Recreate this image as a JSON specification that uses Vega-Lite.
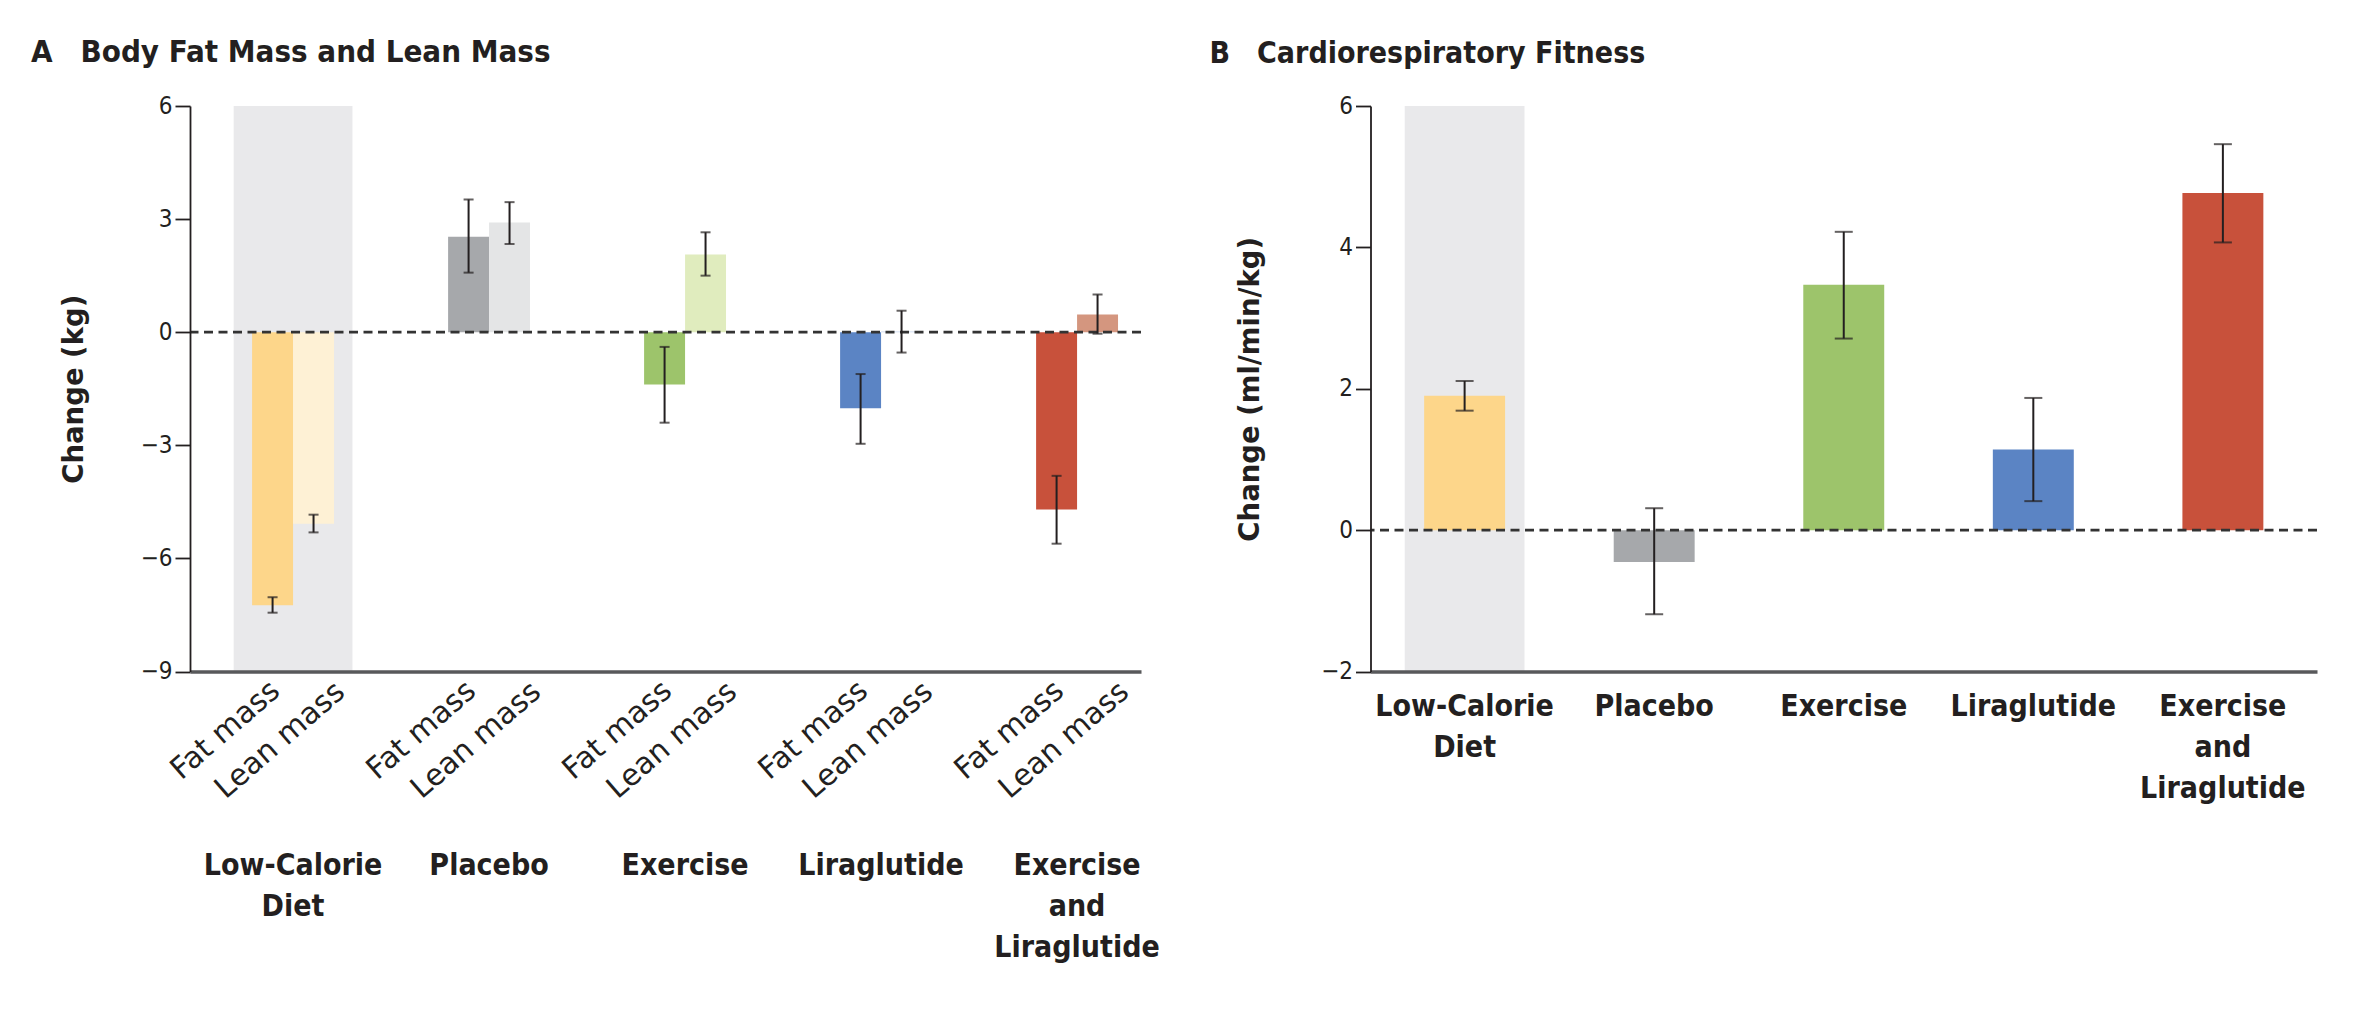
{
  "$schema": "https://vega.github.io/schema/vega-lite/v6.json",
  "background": "white",
  "padding": {"left": 31, "top": 37, "right": 5, "bottom": 5},
  "bounds": "flush",
  "spacing": 229.5,
  "config": {
    "view": {"stroke": null},
    "font": "DejaVu Sans Condensed",
    "axis": {"labelColor": "#231f20", "titleColor": "#231f20"}
  },
  "datasets": {
    "body": [
      {"group": "Low-Calorie Diet", "measure": "Fat mass", "change": -7.24, "lo": -7.44, "hi": -7.03},
      {"group": "Low-Calorie Diet", "measure": "Lean mass", "change": -5.08, "lo": -5.31, "hi": -4.84},
      {"group": "Placebo", "measure": "Fat mass", "change": 2.53, "lo": 1.58, "hi": 3.52},
      {"group": "Placebo", "measure": "Lean mass", "change": 2.91, "lo": 2.34, "hi": 3.45},
      {"group": "Exercise", "measure": "Fat mass", "change": -1.39, "lo": -2.40, "hi": -0.39},
      {"group": "Exercise", "measure": "Lean mass", "change": 2.06, "lo": 1.50, "hi": 2.65},
      {"group": "Liraglutide", "measure": "Fat mass", "change": -2.02, "lo": -2.96, "hi": -1.11},
      {"group": "Liraglutide", "measure": "Lean mass", "change": 0.02, "lo": -0.54, "hi": 0.57},
      {"group": "Exercise and Liraglutide", "measure": "Fat mass", "change": -4.70, "lo": -5.61, "hi": -3.81},
      {"group": "Exercise and Liraglutide", "measure": "Lean mass", "change": 0.47, "lo": -0.04, "hi": 1.00}
    ],
    "fitness": [
      {"group": "Low-Calorie Diet", "change": 1.90, "lo": 1.69, "hi": 2.11},
      {"group": "Placebo", "change": -0.45, "lo": -1.19, "hi": 0.31},
      {"group": "Exercise", "change": 3.47, "lo": 2.71, "hi": 4.22},
      {"group": "Liraglutide", "change": 1.14, "lo": 0.41, "hi": 1.87},
      {"group": "Exercise and Liraglutide", "change": 4.77, "lo": 4.07, "hi": 5.46}
    ]
  },
  "hconcat": [
    {
      "width": 951,
      "height": 565.5,
      "title": {"text": "A\u2002\u2002Body Fat Mass and Lean Mass", "anchor": "start", "frame": "group", "dx": -159, "offset": 1, "baseline": "alphabetic", "font": "DejaVu Sans Condensed", "fontSize": 31, "fontWeight": "bold", "color": "#231f20"},
      "data": {"name": "body"},
      "resolve": {"scale": {"color": "independent"}},
      "layer": [
        {
          "data": {"values": [{"group": "Low-Calorie Diet"}]},
          "mark": {"type": "bar", "color": "#e9e9eb", "width": {"band": 1.45}},
          "encoding": {
            "x": {"field": "group", "type": "nominal",
              "scale": {"domain": ["Low-Calorie Diet", "Placebo", "Exercise", "Liraglutide", "Exercise and Liraglutide"], "paddingInner": 0.582, "paddingOuter": 0.217, "align": 0.73},
              "axis": {"title": null, "ticks": false, "domainColor": "#58595b", "domainWidth": 3.5, "zindex": 1,
                "labelFont": "DejaVu Sans Condensed", "labelFontSize": 30, "labelFontWeight": "bold", "labelAngle": 0,
                "labelBaseline": "top", "labelPadding": 179, "labelLineHeight": 41, "labelOverlap": false, "labelLimit": 0,
                "labelExpr": "datum.value == 'Low-Calorie Diet' ? ['Low-Calorie', 'Diet'] : datum.value == 'Exercise and Liraglutide' ? ['Exercise', 'and', 'Liraglutide'] : datum.value"}},
            "y": {"datum": 6, "type": "quantitative", "scale": {"domain": [-9, 6], "nice": false, "zero": false},
              "axis": {"title": "Change (kg)", "values": [-9, -6, -3, 0, 3, 6], "format": "~g", "grid": false, "zindex": 1,
                "tickSize": 15, "tickWidth": 1.8, "tickColor": "#231f20", "domainColor": "#231f20", "domainWidth": 1.8,
                "labelFont": "DejaVu Sans Condensed", "labelFontSize": 24, "labelPadding": 3,
                "titleFont": "DejaVu Sans", "titleFontSize": 27.5, "titleFontWeight": "bold", "titlePadding": 52}},
            "y2": {"datum": -9}
          }
        },
        {
          "transform": [{"filter": "datum.measure == 'Fat mass'"}],
          "mark": {"type": "bar"},
          "encoding": {
            "x": {"field": "group", "type": "nominal", "scale": {"domain": ["Low-Calorie Diet", "Placebo", "Exercise", "Liraglutide", "Exercise and Liraglutide"], "paddingInner": 0.582, "paddingOuter": 0.217, "align": 0.73}},
            "xOffset": {"field": "measure", "type": "nominal", "scale": {"domain": ["Fat mass", "Lean mass"], "paddingInner": 0, "paddingOuter": 0}},
            "y": {"field": "change", "type": "quantitative", "scale": {"domain": [-9, 6], "nice": false, "zero": false}},
            "y2": {"datum": 0},
            "color": {"field": "group", "type": "nominal", "legend": null,
              "scale": {"domain": ["Low-Calorie Diet", "Placebo", "Exercise", "Liraglutide", "Exercise and Liraglutide"], "range": ["#fdd68a", "#a6a8ab", "#9dc46b", "#5b84c4", "#c8513b"]}}
          }
        },
        {
          "transform": [{"filter": "datum.measure == 'Lean mass'"}],
          "mark": {"type": "bar"},
          "encoding": {
            "x": {"field": "group", "type": "nominal", "scale": {"domain": ["Low-Calorie Diet", "Placebo", "Exercise", "Liraglutide", "Exercise and Liraglutide"], "paddingInner": 0.582, "paddingOuter": 0.217, "align": 0.73}},
            "xOffset": {"field": "measure", "type": "nominal", "scale": {"domain": ["Fat mass", "Lean mass"], "paddingInner": 0, "paddingOuter": 0}},
            "y": {"field": "change", "type": "quantitative", "scale": {"domain": [-9, 6], "nice": false, "zero": false}},
            "y2": {"datum": 0},
            "color": {"field": "group", "type": "nominal", "legend": null,
              "scale": {"domain": ["Low-Calorie Diet", "Placebo", "Exercise", "Liraglutide", "Exercise and Liraglutide"], "range": ["#fef1d5", "#e4e5e6", "#e0ecbe", "#c8d6ee", "#d4967f"]}}
          }
        },
        {
          "data": {"values": [{}]},
          "mark": {"type": "rule", "color": "#333333", "strokeWidth": 2.8, "strokeDash": [9, 5.5]},
          "encoding": {"y": {"datum": 0, "type": "quantitative", "scale": {"domain": [-9, 6], "nice": false, "zero": false}}}
        },
        {
          "mark": {"type": "rule", "color": "#231f20", "strokeWidth": 2},
          "encoding": {
            "x": {"field": "group", "type": "nominal", "scale": {"domain": ["Low-Calorie Diet", "Placebo", "Exercise", "Liraglutide", "Exercise and Liraglutide"], "paddingInner": 0.582, "paddingOuter": 0.217, "align": 0.73}},
            "xOffset": {"field": "measure", "type": "nominal", "scale": {"domain": ["Fat mass", "Lean mass"], "paddingInner": 0, "paddingOuter": 0}},
            "y": {"field": "lo", "type": "quantitative", "scale": {"domain": [-9, 6], "nice": false, "zero": false}},
            "y2": {"field": "hi"}
          }
        },
        {
          "mark": {"type": "tick", "color": "#231f20", "thickness": 2, "size": 10},
          "encoding": {
            "x": {"field": "group", "type": "nominal", "scale": {"domain": ["Low-Calorie Diet", "Placebo", "Exercise", "Liraglutide", "Exercise and Liraglutide"], "paddingInner": 0.582, "paddingOuter": 0.217, "align": 0.73}},
            "xOffset": {"field": "measure", "type": "nominal", "scale": {"domain": ["Fat mass", "Lean mass"], "paddingInner": 0, "paddingOuter": 0}},
            "y": {"field": "lo", "type": "quantitative", "scale": {"domain": [-9, 6], "nice": false, "zero": false}}
          }
        },
        {
          "mark": {"type": "tick", "color": "#231f20", "thickness": 2, "size": 10},
          "encoding": {
            "x": {"field": "group", "type": "nominal", "scale": {"domain": ["Low-Calorie Diet", "Placebo", "Exercise", "Liraglutide", "Exercise and Liraglutide"], "paddingInner": 0.582, "paddingOuter": 0.217, "align": 0.73}},
            "xOffset": {"field": "measure", "type": "nominal", "scale": {"domain": ["Fat mass", "Lean mass"], "paddingInner": 0, "paddingOuter": 0}},
            "y": {"field": "hi", "type": "quantitative", "scale": {"domain": [-9, 6], "nice": false, "zero": false}}
          }
        },
        {
          "transform": [{"filter": "datum.measure == 'Fat mass'"}],
          "mark": {"type": "text", "angle": 319, "align": "right", "baseline": "alphabetic", "dx": -7.6, "dy": 22.5, "font": "DejaVu Sans", "fontSize": 30, "color": "#231f20"},
          "encoding": {
            "x": {"field": "group", "type": "nominal", "scale": {"domain": ["Low-Calorie Diet", "Placebo", "Exercise", "Liraglutide", "Exercise and Liraglutide"], "paddingInner": 0.582, "paddingOuter": 0.217, "align": 0.73}},
            "xOffset": {"field": "measure", "type": "nominal", "scale": {"domain": ["Fat mass", "Lean mass"], "paddingInner": 0, "paddingOuter": 0}},
            "y": {"datum": -9, "type": "quantitative", "scale": {"domain": [-9, 6], "nice": false, "zero": false}},
            "text": {"field": "measure"}
          }
        },
        {
          "transform": [{"filter": "datum.measure == 'Lean mass'"}],
          "mark": {"type": "text", "angle": 319, "align": "right", "baseline": "alphabetic", "dx": 9.8, "dy": 39.0, "font": "DejaVu Sans", "fontSize": 30, "color": "#231f20"},
          "encoding": {
            "x": {"field": "group", "type": "nominal", "scale": {"domain": ["Low-Calorie Diet", "Placebo", "Exercise", "Liraglutide", "Exercise and Liraglutide"], "paddingInner": 0.582, "paddingOuter": 0.217, "align": 0.73}},
            "xOffset": {"field": "measure", "type": "nominal", "scale": {"domain": ["Fat mass", "Lean mass"], "paddingInner": 0, "paddingOuter": 0}},
            "y": {"datum": -9, "type": "quantitative", "scale": {"domain": [-9, 6], "nice": false, "zero": false}},
            "text": {"field": "measure"}
          }
        }
      ]
    },
    {
      "width": 946.5,
      "height": 565.5,
      "title": {"text": "B\u2002\u2002Cardiorespiratory Fitness", "anchor": "start", "frame": "group", "dx": -161, "offset": 1, "baseline": "alphabetic", "font": "DejaVu Sans Condensed", "fontSize": 30, "fontWeight": "bold", "color": "#231f20"},
      "data": {"name": "fitness"},
      "layer": [
        {
          "data": {"values": [{"group": "Low-Calorie Diet"}]},
          "mark": {"type": "bar", "color": "#e9e9eb", "width": {"band": 1.48}},
          "encoding": {
            "x": {"field": "group", "type": "nominal",
              "scale": {"domain": ["Low-Calorie Diet", "Placebo", "Exercise", "Liraglutide", "Exercise and Liraglutide"], "paddingInner": 0.573, "paddingOuter": 0.283},
              "axis": {"title": null, "ticks": false, "domainColor": "#58595b", "domainWidth": 3.5, "zindex": 1,
                "labelFont": "DejaVu Sans Condensed", "labelFontSize": 30, "labelFontWeight": "bold", "labelAngle": 0,
                "labelBaseline": "top", "labelPadding": 20, "labelLineHeight": 41, "labelOverlap": false, "labelLimit": 0,
                "labelExpr": "datum.value == 'Low-Calorie Diet' ? ['Low-Calorie', 'Diet'] : datum.value == 'Exercise and Liraglutide' ? ['Exercise', 'and', 'Liraglutide'] : datum.value"}},
            "y": {"datum": 6, "type": "quantitative", "scale": {"domain": [-2, 6], "nice": false, "zero": false},
              "axis": {"title": "Change (ml/min/kg)", "values": [-2, 0, 2, 4, 6], "format": "~g", "grid": false, "zindex": 1,
                "tickSize": 15, "tickWidth": 1.8, "tickColor": "#231f20", "domainColor": "#231f20", "domainWidth": 1.8,
                "labelFont": "DejaVu Sans Condensed", "labelFontSize": 24, "labelPadding": 3,
                "titleFont": "DejaVu Sans", "titleFontSize": 27.5, "titleFontWeight": "bold", "titlePadding": 56}},
            "y2": {"datum": -2}
          }
        },
        {
          "mark": {"type": "bar"},
          "encoding": {
            "x": {"field": "group", "type": "nominal", "scale": {"domain": ["Low-Calorie Diet", "Placebo", "Exercise", "Liraglutide", "Exercise and Liraglutide"], "paddingInner": 0.573, "paddingOuter": 0.283}},
            "y": {"field": "change", "type": "quantitative", "scale": {"domain": [-2, 6], "nice": false, "zero": false}},
            "y2": {"datum": 0},
            "color": {"field": "group", "type": "nominal", "legend": null,
              "scale": {"domain": ["Low-Calorie Diet", "Placebo", "Exercise", "Liraglutide", "Exercise and Liraglutide"], "range": ["#fdd68a", "#a6a8ab", "#9dc46b", "#5b84c4", "#c8513b"]}}
          }
        },
        {
          "data": {"values": [{}]},
          "mark": {"type": "rule", "color": "#333333", "strokeWidth": 2.8, "strokeDash": [9, 5.5]},
          "encoding": {"y": {"datum": 0, "type": "quantitative", "scale": {"domain": [-2, 6], "nice": false, "zero": false}}}
        },
        {
          "mark": {"type": "rule", "color": "#231f20", "strokeWidth": 2},
          "encoding": {
            "x": {"field": "group", "type": "nominal", "scale": {"domain": ["Low-Calorie Diet", "Placebo", "Exercise", "Liraglutide", "Exercise and Liraglutide"], "paddingInner": 0.573, "paddingOuter": 0.283}},
            "y": {"field": "lo", "type": "quantitative", "scale": {"domain": [-2, 6], "nice": false, "zero": false}},
            "y2": {"field": "hi"}
          }
        },
        {
          "mark": {"type": "tick", "color": "#231f20", "thickness": 2, "size": 18},
          "encoding": {
            "x": {"field": "group", "type": "nominal", "scale": {"domain": ["Low-Calorie Diet", "Placebo", "Exercise", "Liraglutide", "Exercise and Liraglutide"], "paddingInner": 0.573, "paddingOuter": 0.283}},
            "y": {"field": "lo", "type": "quantitative", "scale": {"domain": [-2, 6], "nice": false, "zero": false}}
          }
        },
        {
          "mark": {"type": "tick", "color": "#231f20", "thickness": 2, "size": 18},
          "encoding": {
            "x": {"field": "group", "type": "nominal", "scale": {"domain": ["Low-Calorie Diet", "Placebo", "Exercise", "Liraglutide", "Exercise and Liraglutide"], "paddingInner": 0.573, "paddingOuter": 0.283}},
            "y": {"field": "hi", "type": "quantitative", "scale": {"domain": [-2, 6], "nice": false, "zero": false}}
          }
        }
      ]
    }
  ]
}
